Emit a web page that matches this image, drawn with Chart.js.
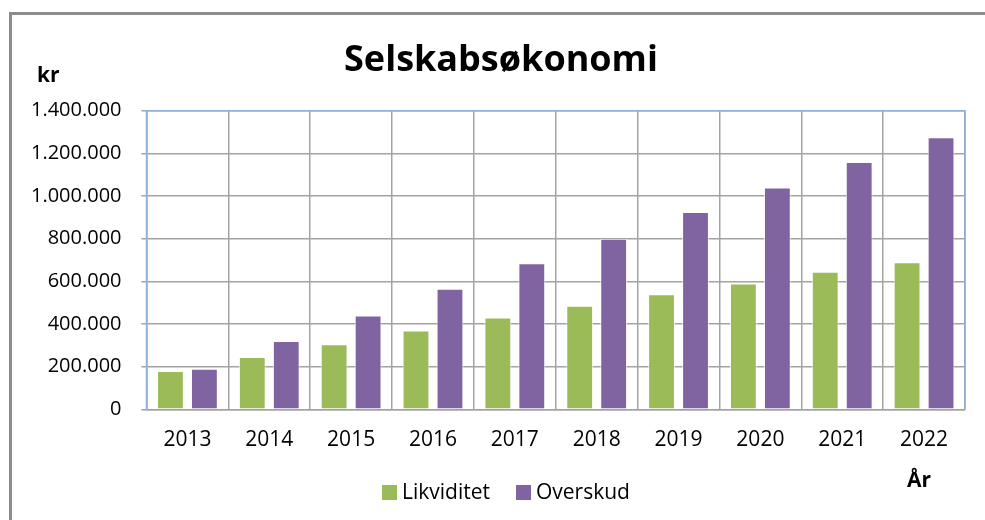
<!DOCTYPE html>
<html>
<head>
<meta charset="utf-8">
<script src="https://cdn.jsdelivr.net/npm/chart.js@4.4.1/dist/chart.umd.min.js"></script>
<style>
  html, body { margin: 0; padding: 0; background: #fff; overflow: hidden; }
  #wrap { position: relative; width: 985px; height: 520px; }
  #frame { position: absolute; left: 9px; top: 12px; width: 1000px; height: 600px;
           border-left: 3px solid #8c8c8c; border-top: 3px solid #8c8c8c; box-sizing: border-box; }
  canvas { position: absolute; left: 0; top: 0; }
</style>
</head>
<body>
<div id="wrap">
  <div id="frame"></div>
  <canvas id="c" width="985" height="520"></canvas>
</div>
<script>
// ---- data ----
const TITLE = 'Selskabsøkonomi';
const Y_UNIT = 'kr';
const X_UNIT = 'År';
const years = ['2013', '2014', '2015', '2016', '2017', '2018', '2019', '2020', '2021', '2022'];
const likviditet = [180000, 245000, 305000, 370000, 430000, 485000, 540000, 590000, 645000, 690000];
const overskud   = [190000, 320000, 440000, 565000, 685000, 800000, 925000, 1040000, 1160000, 1275000];
const seriesNames = ['Likviditet', 'Overskud'];
const yMin = 0, yMax = 1400000, yStep = 200000;

const FONT = '"Open Sans", "DejaVu Sans", sans-serif';
const GREEN = '#9BBB59', PURPLE = '#8064A2';
const GRID = '#a3a3a3', BLUE = '#8fb2dc';

function fmt(v) {
  return String(v).replace(/\B(?=(\d{3})+(?!\d))/g, '.');
}

const overlay = {
  id: 'overlay',
  beforeDatasetsDraw(chart) {
    const { ctx, chartArea: a } = chart;
    ctx.save();
    ctx.strokeStyle = BLUE; ctx.lineWidth = 1.5;
    ctx.beginPath();
    ctx.moveTo(a.left, a.bottom); ctx.lineTo(a.left, a.top);
    ctx.lineTo(a.right, a.top); ctx.lineTo(a.right, a.bottom);
    ctx.stroke();
    ctx.restore();
  },
  afterDraw(chart) {
    const ctx = chart.ctx;
    ctx.save();
    ctx.fillStyle = '#000';
    ctx.textBaseline = 'alphabetic';
    ctx.font = 'bold 36px ' + FONT;
    ctx.textAlign = 'center';
    ctx.fillText(TITLE, 501, 71);
    ctx.font = 'bold 21px ' + FONT;
    ctx.textAlign = 'left';
    ctx.fillText(Y_UNIT, 37, 82);
    ctx.fillText(X_UNIT, 907, 487);
    // legend
    ctx.font = '21px ' + FONT;
    ctx.textBaseline = 'middle';
    let x = 382;
    const cy = 492;
    chart.data.datasets.forEach((ds) => {
      ctx.fillStyle = ds.backgroundColor;
      ctx.fillRect(x, cy - 7, 15, 15);
      x += 20;
      ctx.fillStyle = '#000';
      ctx.fillText(ds.label, x, cy + 1);
      x += ctx.measureText(ds.label).width + 26;
    });
    ctx.restore();
  }
};

new Chart(document.getElementById('c'), {
  type: 'bar',
  data: {
    labels: years,
    datasets: [
      { label: seriesNames[0], data: likviditet, backgroundColor: GREEN,
        borderColor: 'rgba(255,255,255,0.75)', borderWidth: 1 },
      { label: seriesNames[1], data: overskud, backgroundColor: PURPLE,
        borderColor: 'rgba(255,255,255,0.75)', borderWidth: 1 }
    ]
  },
  options: {
    responsive: false,
    animation: false,
    devicePixelRatio: 1,
    datasets: { bar: { categoryPercentage: 0.83, barPercentage: 0.79 } },
    layout: { padding: { top: 110.7, right: 20, bottom: 60.7, left: 0 } },
    plugins: { legend: { display: false }, title: { display: false }, tooltip: { enabled: false } },
    scales: {
      x: {
        grid: { color: GRID, lineWidth: 1.5, drawTicks: false, offset: true },
        border: { color: GRID, width: 1.5 },
        ticks: { color: '#000', font: { family: FONT, size: 21 }, padding: 18 },
        afterFit(s) { s.height = 50; }
      },
      y: {
        min: yMin, max: yMax,
        grid: { color: GRID, lineWidth: 1.5, tickLength: 5, drawTicks: true },
        border: { color: BLUE, width: 1.5 },
        ticks: { stepSize: yStep, color: '#000', font: { family: FONT, size: 20 }, padding: 20,
                 callback: (v) => fmt(v) },
        afterFit(s) { s.width = 146.5; }
      }
    }
  },
  plugins: [overlay]
});
</script>
</body>
</html>
